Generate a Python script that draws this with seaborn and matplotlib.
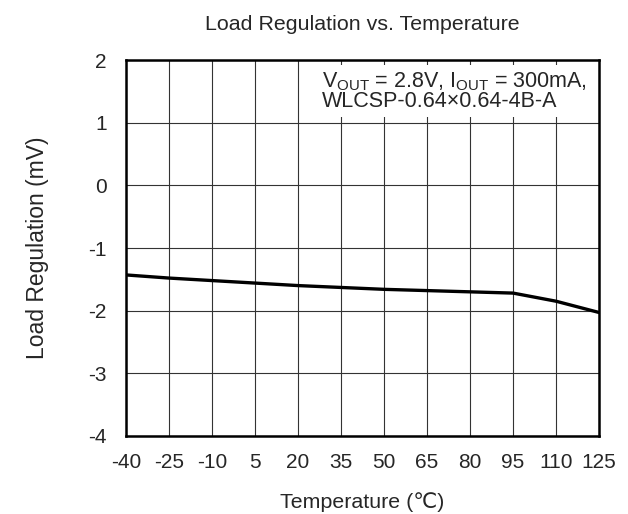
import matplotlib
matplotlib.use("Agg")
import matplotlib.pyplot as plt
import seaborn as sns
import pandas as pd

temps = [-40, -25, -10, 5, 20, 35, 50, 65, 80, 95, 110, 125]
load_reg = [-1.43, -1.48, -1.52, -1.56, -1.60, -1.63, -1.66, -1.68, -1.70, -1.72, -1.85, -2.03]
x_ticks = [-40, -25, -10, 5, 20, 35, 50, 65, 80, 95, 110, 125]
y_ticks = [-4, -3, -2, -1, 0, 1, 2]

sns.set_theme(style="white")
plt.rcParams['font.family'] = ['Liberation Sans', 'DejaVu Sans']
plt.rcParams['mathtext.fontset'] = 'custom'
plt.rcParams['mathtext.rm'] = 'Liberation Sans'
plt.rcParams['mathtext.it'] = 'Liberation Sans'

df = pd.DataFrame({"Temperature": temps, "LoadReg": load_reg})

fig = plt.figure(figsize=(6.28, 5.14), dpi=100)
ax = fig.add_axes([0.2006, 0.152, 0.7534, 0.731])
sns.lineplot(data=df, x="Temperature", y="LoadReg", ax=ax, color="black", linewidth=2.4, zorder=3)

ax.set_xlim(-40, 125)
ax.set_ylim(-4, 2)
ax.set_xticks(x_ticks)
ax.set_yticks(y_ticks)
ax.set_xticklabels([str(t) for t in x_ticks], fontsize=15)
ax.set_yticklabels([str(t) for t in y_ticks], fontsize=15)
ax.set_axisbelow(True)
ax.grid(True, color="#333333", linewidth=0.8)
ax.tick_params(axis='x', length=0, pad=12)
ax.tick_params(axis='y', length=0, pad=14)
for s in ax.spines.values():
    s.set_color("black")
    s.set_linewidth(1.8)
    s.set_zorder(5)

ax.set_xlabel("Temperature (℃)", fontsize=15.4, labelpad=15)
ax.set_ylabel("Load Regulation (mV)", fontsize=16.5, labelpad=28)
ax.set_title("Load Regulation vs. Temperature", fontsize=15.4, pad=22)

ax.text(0.414, 0.972, "V$_{\\rm OUT}$ = 2.8V, I$_{\\rm OUT}$ = 300mA,\nWLCSP-0.64×0.64-4B-A",
        transform=ax.transAxes, ha="left", va="top", multialignment="left",
        fontsize=15.5, linespacing=0.85, zorder=4,
        bbox=dict(boxstyle="square,pad=0.25", facecolor="white", edgecolor="none"))

fig.savefig("out.png", dpi=100, facecolor="white")
